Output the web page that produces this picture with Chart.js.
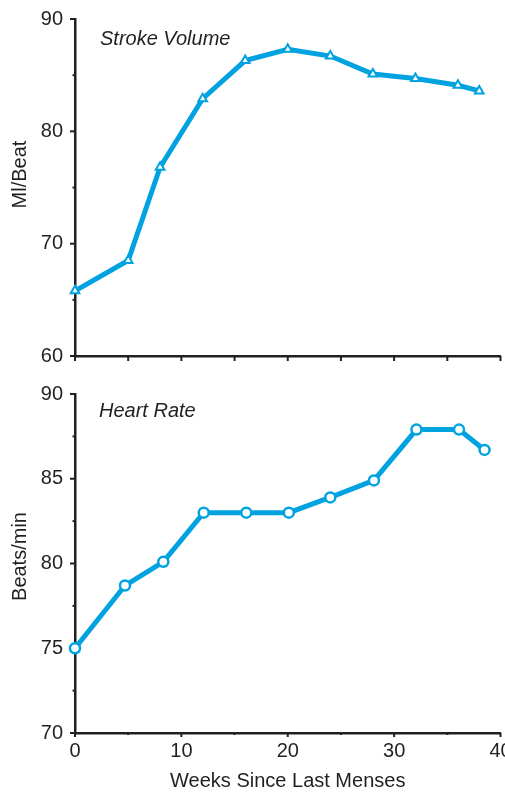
<!DOCTYPE html>
<html>
<head>
<meta charset="utf-8">
<script src="https://cdn.jsdelivr.net/npm/chart.js@4.4.1/dist/chart.umd.min.js"></script>
<style>
  html, body { margin: 0; padding: 0; background: #fff; overflow: hidden; }
  #wrap { position: relative; width: 505px; height: 793px; overflow: hidden; }
  #svChart { position: absolute; left: 0; top: 0; }
  #hrChart { position: absolute; left: 0; top: 375px; }
</style>
</head>
<body>
<div id="wrap">
  <canvas id="svChart" width="520" height="375"></canvas>
  <canvas id="hrChart" width="520" height="418"></canvas>
</div>
<script>
// Data
const svWeeks = [0, 5, 8, 12, 16, 20, 24, 28, 32, 36, 38];
const strokeVolume = [65.8, 68.5, 76.8, 82.9, 86.3, 87.3, 86.7, 85.1, 84.7, 84.1, 83.6];

const hrWeeks = [0, 4.7, 8.3, 12.1, 16.1, 20.1, 24, 28.1, 32.1, 36.1, 38.5];
const heartRate = [75, 78.7, 80.1, 83, 83, 83, 83.9, 84.9, 87.9, 87.9, 86.7];

const xTitle = 'Weeks Since Last Menses';
const svTitle = 'Ml/Beat';
const hrTitle = 'Beats/min';

const blue = '#00a2e0';
const ink = '#231f20';
const fontFamily = '"Liberation Sans", Arial, Helvetica, sans-serif';

// small plugin: panel caption, y title, tick marks (major and minor)
const panelExtras = {
  id: 'panelExtras',
  beforeDatasetsDraw(chart, args, opts) {
    const ctx = chart.ctx;
    const xs = chart.scales.x, ys = chart.scales.y;
    ctx.save();
    ctx.strokeStyle = ink;
    ctx.lineWidth = 2;
    xs.ticks.forEach(t => {
      const px = xs.getPixelForValue(t.value);
      const len = (t.value % opts.xMajor === 0) ? opts.xMajorLen : opts.xMinorLen;
      ctx.beginPath();
      ctx.moveTo(px, xs.top);
      ctx.lineTo(px, xs.top + len);
      ctx.stroke();
    });
    ys.ticks.forEach(t => {
      const py = ys.getPixelForValue(t.value);
      const len = (Math.abs(t.value % opts.yMajor) < 1e-6) ? 5 : 2.5;
      ctx.beginPath();
      ctx.moveTo(ys.right, py);
      ctx.lineTo(ys.right - len, py);
      ctx.stroke();
    });
    ctx.restore();
  },
  afterDraw(chart, args, opts) {
    const {ctx, chartArea} = chart;
    ctx.save();
    ctx.fillStyle = ink;
    ctx.textBaseline = 'middle';
    ctx.font = 'italic 20px ' + fontFamily;
    ctx.fillText(opts.text, chartArea.left + opts.dx, chartArea.top + opts.dy);
    // y axis title
    ctx.font = '20px ' + fontFamily;
    ctx.textAlign = 'center';
    ctx.translate(20, (chartArea.top + chartArea.bottom) / 2 + opts.yTitleShift);
    ctx.rotate(-Math.PI / 2);
    ctx.fillText(opts.yTitle, 0, 0);
    ctx.restore();
  }
};

function makeChart(id, opts) {
  return new Chart(document.getElementById(id), {
    type: 'line',
    data: {
      datasets: [{
        data: opts.xs.map((w, i) => ({ x: w, y: opts.ys[i] })),
        borderColor: blue,
        borderWidth: 5,
        backgroundColor: '#fff',
        pointBackgroundColor: '#fff',
        pointBorderColor: blue,
        pointStyle: opts.pointStyle,
        pointRadius: opts.pointRadius,
        pointBorderWidth: opts.pointBorderWidth,
        tension: 0,
        clip: false
      }]
    },
    options: {
      responsive: false,
      animation: false,
      layout: { padding: { left: 0, right: 19.5, top: opts.padTop, bottom: 0 } },
      plugins: {
        legend: { display: false },
        tooltip: { enabled: false },
        panelExtras: opts.extras
      },
      scales: {
        x: {
          type: 'linear',
          min: 0,
          max: 40,
          afterFit(scale) { scale.height = opts.xHeight; },
          border: { display: true, color: ink, width: 2.5 },
          grid: { drawOnChartArea: false, drawTicks: true, tickLength: 4, tickColor: 'transparent' },
          ticks: {
            display: opts.showXLabels,
            stepSize: 5,
            padding: 2,
            color: ink,
            font: { family: fontFamily, size: 20 },
            maxRotation: 0,
            autoSkip: false,
            callback: v => (v % 10 === 0 ? String(v) : '')
          },
          title: {
            display: opts.showXLabels,
            text: xTitle,
            color: ink,
            font: { family: fontFamily, size: 20 },
            padding: { top: 0, bottom: 0 }
          }
        },
        y: {
          min: opts.yMin,
          max: opts.yMax,
          afterFit(scale) { scale.width = 75; },
          border: { display: true, color: ink, width: 2.5 },
          grid: { drawOnChartArea: false, drawTicks: true, tickLength: 5, tickColor: 'transparent' },
          ticks: {
            stepSize: opts.yStep,
            padding: 7,
            color: ink,
            font: { family: fontFamily, size: 20 },
            autoSkip: false,
            callback: v => (Math.abs(v % opts.yMajor) < 1e-6 ? String(v) : '')
          }
        }
      }
    },
    plugins: [panelExtras]
  });
}

// Stroke volume (top)
makeChart('svChart', {
  xs: svWeeks, ys: strokeVolume,
  pointStyle: 'triangle', pointRadius: 5, pointBorderWidth: 2,
  padTop: 15, xHeight: 17, showXLabels: false,
  yMin: 60, yMax: 90, yStep: 5, yMajor: 10,
  extras: { text: 'Stroke Volume', dx: 25, dy: 20, xMajor: 5, xMajorLen: 5, xMinorLen: 5, yMajor: 10,
            yTitle: svTitle, yTitleShift: -13 }
});

// Heart rate (bottom)
makeChart('hrChart', {
  xs: hrWeeks, ys: heartRate,
  pointStyle: 'circle', pointRadius: 5, pointBorderWidth: 2.5,
  padTop: 13.5, xHeight: 60, showXLabels: true,
  yMin: 70, yMax: 90, yStep: 2.5, yMajor: 5,
  extras: { text: 'Heart Rate', dx: 24, dy: 17, xMajor: 10, xMajorLen: 4, xMinorLen: 2, yMajor: 5,
            yTitle: hrTitle, yTitleShift: -7 }
});
</script>
</body>
</html>
